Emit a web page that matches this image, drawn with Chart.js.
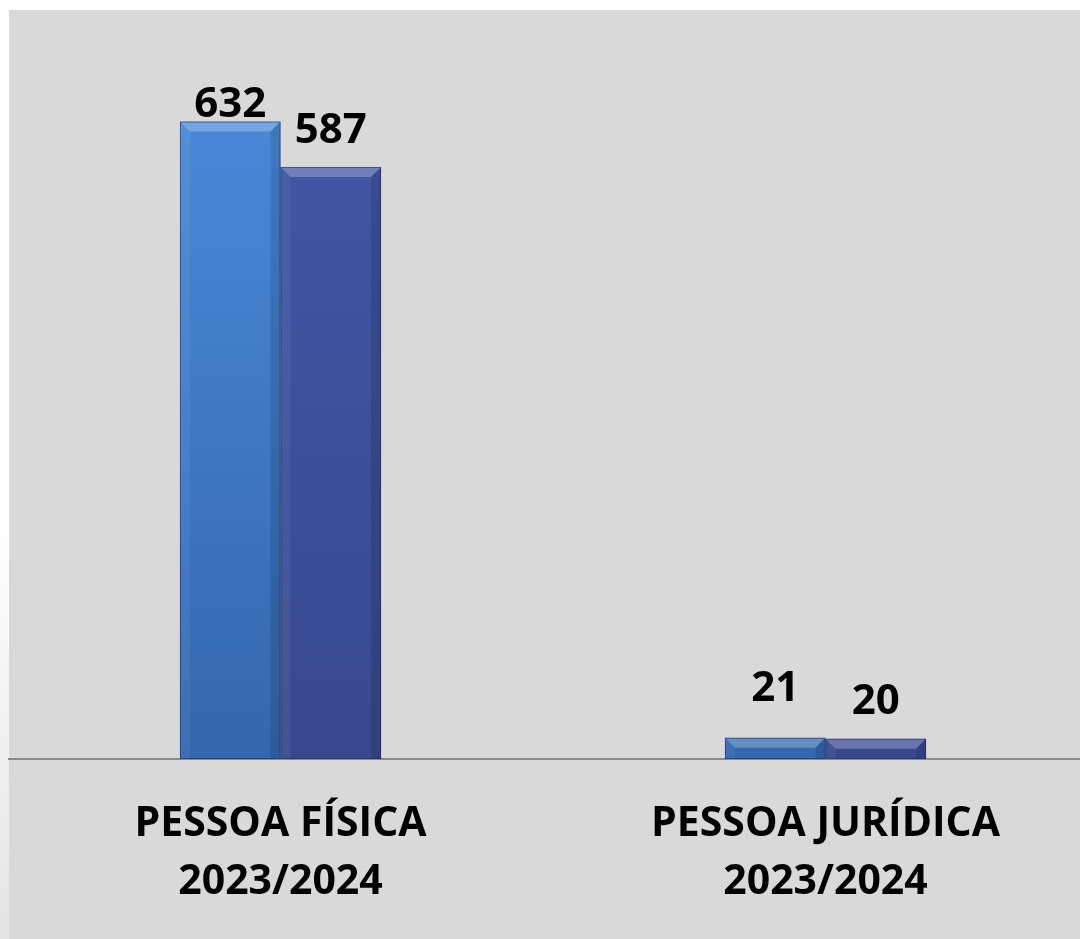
<!DOCTYPE html>
<html>
<head>
<meta charset="utf-8">
<script src="https://cdn.jsdelivr.net/npm/chart.js@4"></script>
<style>
  html, body { margin: 0; padding: 0; width: 1080px; height: 939px; overflow: hidden; background: #fff; }
  #panel { position: absolute; left: 9px; top: 10px; width: 1080px; height: 940px; background: #d9d9d9; }
  #fade { position: absolute; left: 0; top: 10px; width: 9px; height: 929px;
          background: linear-gradient(to bottom, #ffffff 0%, #ffffff 55%, #e4e4e4 100%); }
  canvas { position: absolute; left: 8px; top: 10px; }
</style>
</head>
<body>
<div id="panel"></div>
<div id="fade"></div>
<canvas id="chart" width="1090" height="929"></canvas>
<script>
// DADOS
const categories = [["PESSOA FÍSICA", "2023/2024"], ["PESSOA JURÍDICA", "2023/2024"]];
const serieA = [632, 21];
const serieB = [587, 20];

// estilo
const topColors = ["#4b8cdc", "#4259a8"];
const bottomColors = ["#3467ad", "#37488f"];
const labelGap = [[5, 37], [24, 25]];

function barGradient(ctx, i) {
  const area = ctx.chart.chartArea;
  if (!area) return topColors[i];
  const g = ctx.chart.ctx.createLinearGradient(0, area.top, 0, area.bottom);
  g.addColorStop(0, topColors[i]);
  g.addColorStop(1, bottomColors[i]);
  return g;
}

// bevel nas barras
const bevel = {
  id: "bevel",
  afterDatasetsDraw(chart) {
    const c = chart.ctx;
    chart.data.datasets.forEach((ds, di) => {
      chart.getDatasetMeta(di).data.forEach(bar => {
        const l = bar.x - bar.width / 2, r = bar.x + bar.width / 2;
        const t = bar.y, b = bar.base;
        const d = Math.min(10, (b - t) / 2);
        c.save();
        // topo claro
        c.fillStyle = "rgba(255,255,255,0.25)";
        c.beginPath();
        c.moveTo(l, t); c.lineTo(r, t); c.lineTo(r - d, t + d); c.lineTo(l + d, t + d); c.closePath();
        c.fill();
        // lado esquerdo
        c.fillStyle = "rgba(255,255,255,0.06)";
        c.beginPath();
        c.moveTo(l, t); c.lineTo(l + d, t + d); c.lineTo(l + d, b); c.lineTo(l, b); c.closePath();
        c.fill();
        // lado direito
        c.fillStyle = "rgba(0,0,0,0.12)";
        c.beginPath();
        c.moveTo(r, t); c.lineTo(r - d, t + d); c.lineTo(r - d, b); c.lineTo(r, b); c.closePath();
        c.fill();
        c.strokeStyle = "rgba(20,40,90,0.5)";
        c.lineWidth = 1;
        c.strokeRect(l + 0.5, t + 0.5, r - l - 1, b - t - 1);
        c.restore();
      });
    });
  }
};

// rotulos de valor
const valueLabels = {
  id: "valueLabels",
  afterDatasetsDraw(chart) {
    const c = chart.ctx;
    c.save();
    c.font = "bold 42px 'Open Sans'";
    c.fillStyle = "#000";
    c.textAlign = "center";
    c.textBaseline = "alphabetic";
    chart.data.datasets.forEach((ds, di) => {
      chart.getDatasetMeta(di).data.forEach((bar, i) => {
        c.fillText(ds.data[i], bar.x, bar.y - labelGap[di][i]);
      });
    });
    c.restore();
  }
};

new Chart(document.getElementById("chart"), {
  type: "bar",
  data: {
    labels: categories,
    datasets: [
      { label: "A", data: serieA, backgroundColor: ctx => barGradient(ctx, 0) },
      { label: "B", data: serieB, backgroundColor: ctx => barGradient(ctx, 1) }
    ]
  },
  options: {
    responsive: false,
    animation: false,
    categoryPercentage: 0.369,
    barPercentage: 1,
    layout: { padding: { top: 43, left: 0, right: 0, bottom: 0 } },
    plugins: { legend: { display: false }, tooltip: { enabled: false } },
    scales: {
      y: { display: false, min: 0, max: 700 },
      x: {
        grid: { display: false, drawTicks: false },
        border: { display: true, color: "#8a8a8a", width: 2 },
        ticks: {
          color: "#000",
          padding: 37,
          maxRotation: 0,
          font: { family: "'Open Sans'", weight: "bold", size: 41, lineHeight: 1.4 }
        },
        afterFit(scale) { scale.height = 180; }
      }
    }
  },
  plugins: [bevel, valueLabels]
});
</script>
</body>
</html>
